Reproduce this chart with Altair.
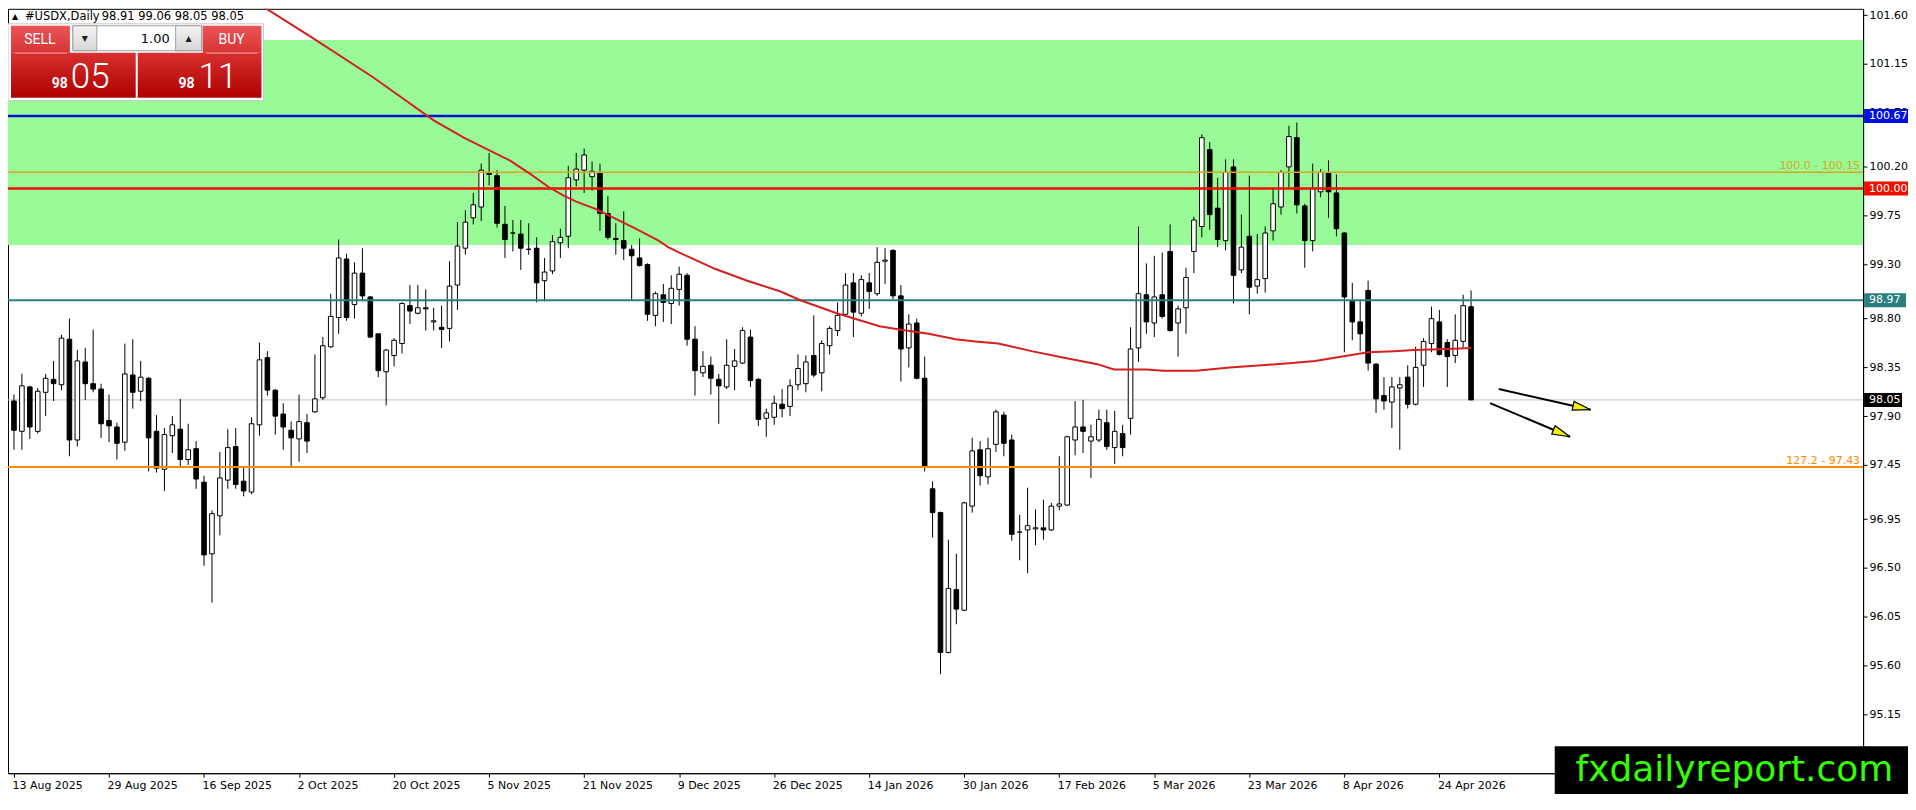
import math
import altair as alt
import pandas as pd

W = 1859
H = 766

# ---------------- data ----------------
opens = [98.04, 97.76, 98.17, 97.76, 98.12, 98.24, 98.19, 98.61, 97.68, 98.40,
         98.20, 98.15, 97.86, 97.80, 97.66, 98.28, 98.13, 98.25, 97.76, 97.41,
         97.72, 97.78, 97.50, 97.60, 97.29, 96.63, 96.98, 97.31, 97.62, 97.30,
         97.20, 97.82, 98.44, 98.14, 97.92, 97.77, 97.69, 97.84, 97.94, 98.07,
         98.54, 98.81, 99.35, 98.93, 99.22, 99.00, 98.66, 98.31, 98.46, 98.57,
         98.92, 98.85, 98.90, 98.77, 98.72, 98.71, 99.11, 99.45, 99.73, 99.83,
         100.14, 100.12, 99.67, 99.59, 99.58, 99.44, 99.45, 99.15, 99.24, 99.50,
         99.56, 100.08, 100.17, 100.11, 100.14, 99.77, 99.54, 99.52, 99.44, 99.36,
         99.30, 98.83, 99.02, 98.94, 99.07, 99.20, 98.61, 98.30, 98.37, 98.24,
         98.17, 98.36, 98.39, 98.63, 98.24, 97.88, 97.89, 98.01, 97.99, 98.19,
         98.20, 98.46, 98.30, 98.55, 98.69, 98.84, 99.13, 98.85, 99.13, 99.03,
         99.33, 99.43, 99.01, 98.53, 98.76, 98.25, 97.23, 97.01, 95.72, 96.30,
         96.11, 97.07, 97.59, 97.34, 97.64, 97.91, 97.68, 96.83, 96.85, 96.86,
         96.87, 96.85, 97.07, 97.08, 97.68, 97.80, 97.67, 97.68, 97.84, 97.61,
         97.74, 97.88, 98.53, 99.02, 98.76, 99.02, 99.42, 98.76, 98.90, 99.42,
         99.65, 100.36, 99.82, 99.52, 100.20, 99.25, 99.56, 99.10, 99.17, 99.61,
         99.83, 100.20, 100.47, 99.84, 99.52, 99.97, 100.14, 99.96, 99.59, 98.96,
         98.77, 99.06, 98.38, 98.09, 98.03, 98.16, 98.26, 98.01, 98.37, 98.57,
         98.77, 98.58, 98.46, 98.59, 98.91]

highs = [98.10, 98.29, 98.18, 98.16, 98.29, 98.41, 98.65, 98.80, 98.51, 98.53,
         98.70, 98.20, 98.10, 97.84, 98.57, 98.61, 98.41, 98.26, 97.91, 97.79,
         97.90, 98.06, 97.83, 97.67, 97.35, 97.03, 97.57, 97.78, 97.79, 97.43,
         97.89, 98.58, 98.50, 98.15, 98.02, 97.85, 98.10, 97.92, 98.47, 98.63,
         99.03, 99.53, 99.40, 99.32, 99.45, 99.01, 98.66, 98.52, 98.62, 98.95,
         99.11, 99.11, 99.07, 98.90, 98.92, 99.33, 99.69, 99.80, 99.96, 100.23,
         100.33, 100.17, 99.84, 99.71, 99.71, 99.68, 99.55, 99.36, 99.57, 99.63,
         100.21, 100.33, 100.37, 100.25, 100.23, 99.93, 99.68, 99.79, 99.48, 99.54,
         99.31, 99.05, 99.12, 99.20, 99.28, 99.22, 98.73, 98.50, 98.45, 98.29,
         98.61, 98.52, 98.72, 98.70, 98.25, 97.97, 98.09, 98.15, 98.24, 98.47,
         98.46, 98.83, 98.60, 98.73, 98.95, 99.22, 99.22, 99.20, 99.22, 99.46,
         99.45, 99.44, 99.11, 98.84, 98.80, 98.45, 97.30, 97.02, 96.76, 96.63,
         97.11, 97.70, 97.67, 97.70, 97.96, 97.94, 97.73, 96.99, 97.24, 97.04,
         97.13, 97.10, 97.53, 97.72, 98.04, 98.05, 97.82, 97.96, 97.96, 97.95,
         97.82, 98.72, 99.65, 99.31, 99.38, 99.41, 99.67, 98.92, 99.27, 99.74,
         100.50, 100.43, 100.10, 100.27, 100.27, 99.76, 100.12, 99.58, 99.65, 100.00,
         100.17, 100.58, 100.61, 99.86, 100.23, 100.18, 100.26, 100.13, 99.60, 99.13,
         98.97, 99.15, 98.39, 98.26, 98.26, 98.26, 98.37, 98.54, 98.62, 98.91,
         98.88, 98.61, 98.84, 99.02, 99.06]

lows = [97.59, 97.59, 97.69, 97.74, 97.90, 98.04, 98.14, 97.53, 97.62, 98.05,
        98.12, 97.70, 97.66, 97.50, 97.58, 97.97, 98.04, 97.39, 97.38, 97.21,
        97.56, 97.44, 97.45, 97.23, 96.52, 96.18, 96.80, 97.23, 97.23, 97.16,
        97.18, 97.72, 98.09, 97.73, 97.59, 97.44, 97.48, 97.56, 97.93, 98.05,
        98.53, 98.66, 98.78, 98.80, 98.96, 98.62, 98.26, 98.00, 98.36, 98.48,
        98.75, 98.84, 98.69, 98.69, 98.53, 98.59, 98.88, 99.39, 99.67, 99.70,
        100.03, 99.64, 99.36, 99.42, 99.25, 99.39, 98.95, 98.96, 99.21, 99.36,
        99.45, 100.02, 99.96, 99.98, 99.61, 99.53, 99.39, 99.34, 98.97, 99.28,
        98.78, 98.73, 98.77, 98.75, 98.92, 98.55, 98.09, 98.26, 98.10, 97.83,
        98.15, 98.14, 98.38, 98.17, 97.81, 97.71, 97.82, 97.89, 97.90, 98.14,
        98.12, 98.26, 98.13, 98.47, 98.64, 98.82, 98.63, 98.82, 98.89, 99.01,
        99.12, 98.98, 98.22, 98.35, 98.24, 97.39, 96.78, 95.52, 95.71, 95.98,
        96.10, 97.01, 97.26, 97.27, 97.57, 97.53, 96.75, 96.57, 96.45, 96.71,
        96.76, 96.84, 97.03, 97.07, 97.54, 97.56, 97.33, 97.66, 97.59, 97.46,
        97.53, 97.73, 98.40, 98.66, 98.63, 98.80, 98.68, 98.45, 98.66, 99.22,
        99.55, 99.62, 99.46, 99.43, 98.94, 99.22, 98.84, 99.03, 99.04, 99.52,
        99.76, 100.00, 99.77, 99.27, 99.42, 99.92, 99.73, 99.56, 98.49, 98.60,
        98.50, 98.32, 97.93, 97.96, 97.79, 97.59, 97.97, 98.00, 98.17, 98.49,
        98.46, 98.17, 98.39, 98.52, 98.05]

closes = [97.77, 98.18, 97.80, 98.13, 98.25, 98.20, 98.62, 97.68, 98.41, 98.20,
          98.15, 97.83, 97.81, 97.65, 98.29, 98.12, 98.26, 97.70, 97.42, 97.73,
          97.82, 97.50, 97.59, 97.32, 96.62, 97.00, 97.33, 97.61, 97.27, 97.21,
          97.83, 98.42, 98.14, 97.90, 97.80, 97.70, 97.85, 97.67, 98.06, 98.55,
          98.82, 99.36, 98.81, 99.22, 99.01, 98.63, 98.32, 98.51, 98.60, 98.94,
          98.87, 98.90, 98.89, 98.78, 98.70, 99.10, 99.47, 99.69, 99.85, 100.17,
          100.13, 99.68, 99.53, 99.59, 99.45, 99.44, 99.13, 99.23, 99.51, 99.55,
          100.10, 100.18, 100.31, 100.16, 99.77, 99.55, 99.53, 99.45, 99.38, 99.29,
          98.84, 99.03, 98.95, 99.08, 99.21, 98.61, 98.32, 98.36, 98.25, 98.18,
          98.37, 98.41, 98.69, 98.23, 97.87, 97.93, 98.02, 97.97, 98.18, 98.34,
          98.40, 98.28, 98.57, 98.71, 98.83, 99.11, 98.86, 99.16, 99.05, 99.32,
          99.34, 99.01, 98.52, 98.75, 98.25, 97.43, 97.01, 95.72, 96.31, 96.12,
          97.10, 97.58, 97.35, 97.60, 97.94, 97.65, 96.81, 96.83, 96.89, 96.87,
          96.85, 97.07, 97.09, 97.71, 97.80, 97.76, 97.71, 97.87, 97.62, 97.76,
          97.61, 98.52, 99.03, 98.77, 99.00, 98.82, 98.69, 98.89, 99.18, 99.71,
          100.47, 99.76, 99.53, 100.15, 99.20, 99.46, 99.09, 99.16, 99.59, 99.86,
          100.15, 100.48, 99.85, 99.52, 100.00, 100.15, 99.97, 99.63, 99.00, 98.77,
          98.66, 98.39, 98.06, 98.04, 98.17, 98.19, 98.01, 98.35, 98.59, 98.80,
          98.47, 98.45, 98.60, 98.92, 98.05]

assert len(opens) == len(highs) == len(lows) == len(closes) == 185

date_labels = ["13 Aug 2025", "29 Aug 2025", "16 Sep 2025", "2 Oct 2025",
               "20 Oct 2025", "5 Nov 2025", "21 Nov 2025", "9 Dec 2025",
               "26 Dec 2025", "14 Jan 2026", "30 Jan 2026", "17 Feb 2026",
               "5 Mar 2026", "23 Mar 2026", "8 Apr 2026", "24 Apr 2026"]
date_label_bars = [0, 12, 24, 36, 48, 60, 72, 84, 96, 108, 120, 132, 144, 156, 168, 180]

price_ticks = [101.60, 101.15, 100.70, 100.20, 99.75, 99.30, 98.80, 98.35,
               97.90, 97.45, 96.95, 96.50, 96.05, 95.60, 95.15]

zone_low = [99.48]
zone_high = [101.37]

level_prices = [100.67, 100.15, 100.00, 98.97, 97.43]
level_colors = ["#0010D8", "#DAA520", "#EE1100", "#2A7F7F", "#FF8C00"]
level_widths = [2.5, 1.5, 2.5, 2.0, 2.0]

bid_price = [98.05]

tag_prices = [100.67, 100.00, 98.97, 98.05]
tag_texts = ["100.67", "100.00", "98.97", "98.05"]
tag_colors = ["#0010E0", "#EE1100", "#2A7F7F", "#000000"]

note_prices = [100.15, 97.43]
note_texts = ["100.0 - 100.15", "127.2 - 97.43"]
note_colors = ["#DAA520", "#FF8C00"]

ma_x = [29, 31, 37.7, 45.3, 53, 56.8, 60.1, 62.6, 65.1, 67.6, 69.3, 71, 73.5, 76,
        78.5, 81.4, 82.6, 84.3, 88.5, 92.6, 96.8, 99.3, 103.9, 109.3, 111.8, 115.5,
        118.9, 121.4, 124.3, 128.5, 132.6, 136.8, 138.9, 143, 145.1, 149.3, 153.5,
        157.6, 161.4, 164.3, 168.5, 171, 174.3, 176.8, 181, 184]
ma_y = [101.80, 101.70, 101.39, 101.03, 100.63, 100.47, 100.35, 100.26, 100.14,
        100.01, 99.94, 99.88, 99.81, 99.72, 99.63, 99.52, 99.46, 99.40, 99.26,
        99.15, 99.05, 98.97, 98.85, 98.73, 98.70, 98.66, 98.61, 98.59, 98.57,
        98.50, 98.44, 98.38, 98.33, 98.33, 98.32, 98.32, 98.35, 98.37, 98.39,
        98.41, 98.46, 98.49, 98.50, 98.51, 98.52, 98.53]

arrow_x0 = [187.5, 186.4]
arrow_y0 = [98.15, 98.02]
arrow_x1 = [199.1, 196.5]
arrow_y1 = [97.96, 97.71]

# ---------------- scales and axes ----------------
XDOM = [-0.125, 232.875]
YDOM = [94.6053, 101.6588]
xscale = alt.Scale(domain=XDOM, nice=False, zero=False)
yscale = alt.Scale(domain=YDOM, nice=False, zero=False)
px_per_bar = W / (XDOM[1] - XDOM[0])
px_per_unit = H / (YDOM[1] - YDOM[0])

label_expr = "[" + ",".join("'%s'" % s for s in date_labels) + "][round(datum.value / 12)]"

x_axis = alt.Axis(values=date_label_bars, labelExpr=label_expr, title=None, grid=False,
                  tickSize=4, labelAlign="left", labelOffset=-2, labelPadding=2,
                  labelFlush=False, labelOverlap=False, orient="bottom")
y_axis = alt.Axis(values=price_ticks, format=".2f", orient="right", title=None,
                  grid=False, tickSize=4, labelPadding=2, labelOverlap=False,
                  labelFlush=False)


def X(field):
    return alt.X(field, scale=xscale, axis=x_axis)


def Y(field):
    return alt.Y(field, scale=yscale, axis=y_axis)


bars = pd.DataFrame({"i": list(range(len(opens))), "o": opens, "h": highs,
                     "l": lows, "c": closes})
bars["top"] = bars[["o", "c"]].max(axis=1)
bars["bot"] = bars[["o", "c"]].min(axis=1)
bars["fill"] = ["white" if c >= o else "black" for o, c in zip(opens, closes)]

one = pd.DataFrame({"k": [0]})

layers = []

# green zone
zone = pd.DataFrame({"lo": zone_low, "hi": zone_high})
layers.append(alt.Chart(zone).mark_rect(color="#98FB98").encode(
    y=Y("lo:Q"), y2="hi:Q", x=alt.value(0), x2=alt.value(W)))

# bid line
layers.append(alt.Chart(pd.DataFrame({"p": bid_price})).mark_rule(
    color="#C0C0C0", strokeWidth=1).encode(y=Y("p:Q")))

# candle wicks
layers.append(alt.Chart(bars).mark_rule(color="black", strokeWidth=1).encode(
    x=X("i:Q"), y=Y("l:Q"), y2="h:Q"))

# candle bodies
layers.append(alt.Chart(bars).mark_bar(size=4.6, stroke="black", strokeWidth=1).encode(
    x=X("i:Q"), y=Y("bot:Q"), y2="top:Q",
    color=alt.Color("fill:N", scale=None)))

# level lines
lv = pd.DataFrame({"p": level_prices, "col": level_colors, "w": level_widths})
layers.append(alt.Chart(lv).mark_rule().encode(
    y=Y("p:Q"), color=alt.Color("col:N", scale=None),
    strokeWidth=alt.StrokeWidth("w:Q", scale=None)))

# level notes
nt = pd.DataFrame({"p": note_prices, "t": note_texts, "col": note_colors})
layers.append(alt.Chart(nt).mark_text(align="right", baseline="bottom", dy=-1,
                                      font="DejaVu Sans", fontSize=11).encode(
    y=Y("p:Q"), x=alt.value(W - 3), text="t:N", color=alt.Color("col:N", scale=None)))

# moving average
ma = pd.DataFrame({"x": ma_x, "y": ma_y})
layers.append(alt.Chart(ma).mark_line(color="#D42020", strokeWidth=2, clip=True).encode(
    x=X("x:Q"), y=Y("y:Q")))

# arrows
angles = [math.degrees(math.atan2((a - b) * px_per_unit, (d - c) * px_per_bar))
          for a, b, c, d in zip(arrow_y0, arrow_y1, arrow_x0, arrow_x1)]
ar = pd.DataFrame({"x0": arrow_x0, "y0": arrow_y0, "x1": arrow_x1, "y1": arrow_y1,
                   "ang": angles})
layers.append(alt.Chart(ar).mark_rule(color="black", strokeWidth=2).encode(
    x=X("x0:Q"), x2="x1:Q", y=Y("y0:Q"), y2="y1:Q"))
layers.append(alt.Chart(ar).mark_point(
    shape="M 0 0 L -2 -0.5 L -2 0.5 Z", size=324, filled=True, color="#F2F200",
    stroke="black", strokeWidth=1.2, opacity=1).encode(
    x=X("x1:Q"), y=Y("y1:Q"), angle=alt.Angle("ang:Q", scale=None)))

# price tags on the axis
tag_right = {"100.67": 1908, "100.00": 1908, "98.97": 1902, "98.05": 1898}
for p, t, col in zip(tag_prices, tag_texts, tag_colors):
    d = pd.DataFrame({"p": [p], "t": [t]})
    layers.append(alt.Chart(d).mark_rule(color=col, strokeWidth=14).encode(
        y=Y("p:Q"), x=alt.value(W + 1), x2=alt.value(tag_right[t])))
    layers.append(alt.Chart(d).mark_text(align="left", baseline="middle", color="white",
                                         font="DejaVu Sans", fontSize=11).encode(
        y=Y("p:Q"), x=alt.value(W + 6), text="t:N"))


# ---------------- decorations (trade panel, title, watermark) ----------------
def rect(x, x2, y, y2, fill, stroke=None, sw=0):
    kw = {"fill": fill}
    if stroke:
        kw.update(stroke=stroke, strokeWidth=sw)
    return alt.Chart(one).mark_rect(**kw).encode(
        x=alt.value(x), x2=alt.value(x2), y=alt.value(y), y2=alt.value(y2))


def text(s, x, y, size, color, font="DejaVu Sans", align="left",
         baseline="alphabetic", weight="normal"):
    return alt.Chart(one).mark_text(align=align, baseline=baseline, font=font,
                                    fontSize=size, color=color, fontWeight=weight).encode(
        x=alt.value(x), y=alt.value(y), text=alt.value(s))


def vgrad(c1, c2):
    return alt.Gradient(gradient="linear",
                        stops=[alt.GradientStop(color=c1, offset=0),
                               alt.GradientStop(color=c2, offset=1)],
                        x1=0, x2=0, y1=0, y2=1)


btn = vgrad("#EA5555", "#D73434")
big = vgrad("#D83030", "#AE0000")
gray = vgrad("#F4F4F4", "#D6D6D6")

layers += [
    rect(0, 256, 15, 92, "white", "#C8C8C8", 1),
    rect(3, 62, 17, 44, btn),
    rect(195, 254, 17, 44, btn),
    rect(3, 128, 44, 89, big),
    rect(130, 254, 44, 89, big),
    rect(65, 194, 17, 42, "white", "#A0A0A0", 1),
    rect(65, 89, 17, 42, gray, "#A0A0A0", 1),
    rect(168, 194, 17, 42, gray, "#A0A0A0", 1),
    alt.Chart(one).mark_rule(color="#F39090", strokeWidth=1).encode(
        x=alt.value(7), x2=alt.value(59), y=alt.value(44.5)),
    alt.Chart(one).mark_rule(color="#F39090", strokeWidth=1).encode(
        x=alt.value(199), x2=alt.value(250), y=alt.value(44.5)),
    text("SELL", 32, 31, 14, "white", font="Roboto", align="center", baseline="middle"),
    text("BUY", 224, 31, 14, "white", font="Roboto", align="center", baseline="middle"),
    text("1.00", 162, 30, 13, "black", align="right", baseline="middle"),
    text("\u25BC", 77, 30, 8, "#202020", align="center", baseline="middle"),
    text("\u25B2", 181, 30, 8, "#202020", align="center", baseline="middle"),
    text("98", 60, 79, 14, "white", font="Roboto", align="right", weight="bold"),
    text("05", 63, 79, 35, "white", font="Roboto", weight=300),
    text("98", 187, 79, 14, "white", font="Roboto", align="right", weight="bold"),
    text("11", 191, 79, 35, "white", font="Roboto", weight=300),
    text("\u25B2", 4, 10, 8, "black"),
    text("#USDX,Daily", 17, 11, 11.5, "black"),
    text("98.91 99.06 98.05 98.05", 94, 11, 11.5, "black"),
    rect(1550, 1910, 739, 790, "black"),
    text("fxdailyreport.com", 1730, 763, 36, "#33FF00", align="center", baseline="middle"),
]

chart = alt.layer(*layers).properties(
    width=W, height=H,
    padding={"left": 0, "top": 0, "right": 45, "bottom": 20},
    autosize=alt.AutoSizeParams(type="none"),
    background="white",
).configure_view(stroke="black", strokeWidth=1).configure_axis(
    labelFont="DejaVu Sans", labelFontSize=11, labelColor="black",
    tickColor="black", domainColor="black", domainWidth=1, tickWidth=1)

chart.save("out.html", embed_options={"renderer": "svg", "actions": False})
